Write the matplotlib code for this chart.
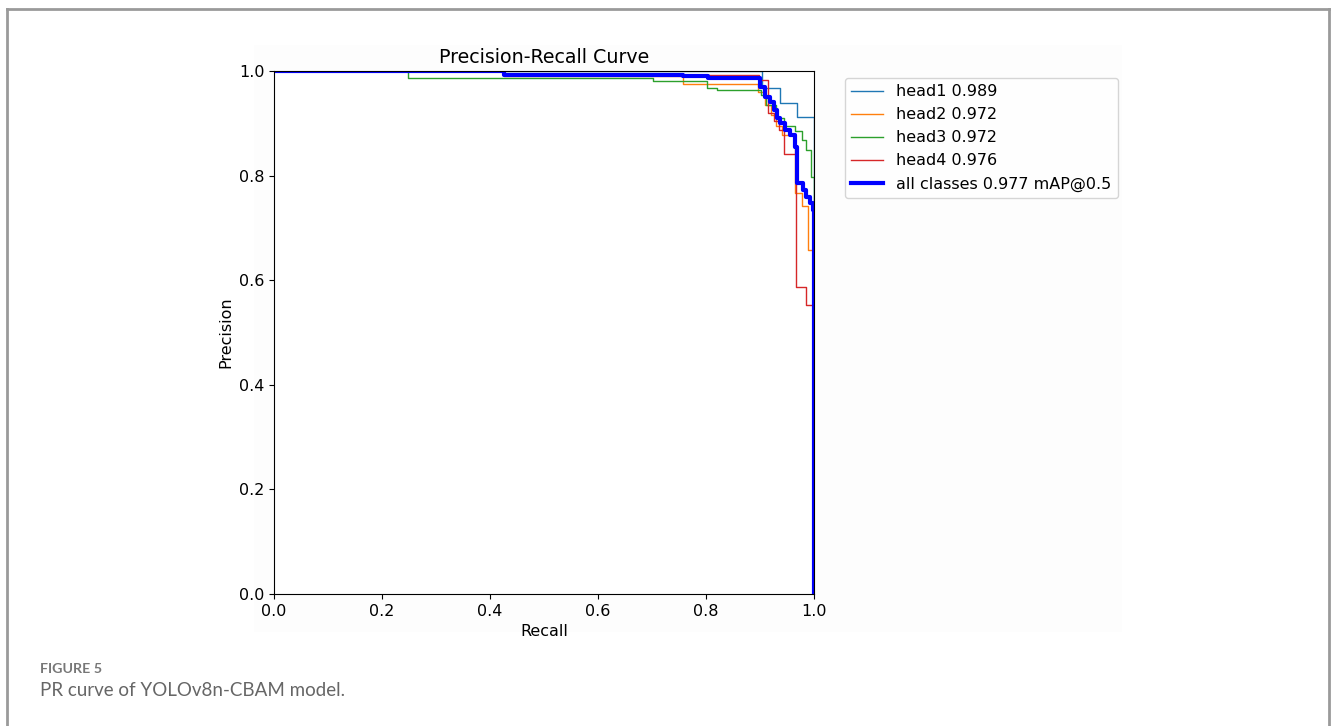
import matplotlib
matplotlib.use("Agg")
import matplotlib.pyplot as plt
from matplotlib.lines import Line2D
from matplotlib.patches import Rectangle

# step curves (recall breakpoints, precision held until the next breakpoint)
head1_r = [0.0, 0.904, 0.937, 0.968, 1.0, 1.0]
head1_p = [1.0, 0.967, 0.939, 0.913, 0.0, 0.0]

head2_r = [0.0, 0.425, 0.757, 0.897, 0.91, 0.92, 0.93, 0.94, 0.965, 0.977, 0.989, 1.0, 1.0]
head2_p = [1.0, 0.990, 0.975, 0.960, 0.935, 0.915, 0.895, 0.878, 0.767, 0.742, 0.658, 0.0, 0.0]

head3_r = [0.0, 0.2475, 0.701, 0.801, 0.82, 0.901, 0.912, 0.93, 0.945, 0.965, 0.977, 0.986, 0.995, 1.0, 1.0]
head3_p = [1.0, 0.986, 0.980, 0.967, 0.964, 0.955, 0.935, 0.910, 0.895, 0.885, 0.868, 0.849, 0.798, 0.0, 0.0]

head4_r = [0.0, 0.425, 0.899, 0.915, 0.925, 0.935, 0.945, 0.966, 0.985, 1.0, 1.0]
head4_p = [1.0, 0.993, 0.983, 0.920, 0.905, 0.887, 0.841, 0.587, 0.553, 0.0, 0.0]

all_r = [0.0, 0.425, 0.757, 0.804, 0.9, 0.909, 0.919, 0.925, 0.931, 0.937, 0.946, 0.956,
         0.965, 0.968, 0.98, 0.986, 0.993, 0.998, 1.0, 1.0]
all_p = [1.0, 0.993, 0.990, 0.986, 0.970, 0.951, 0.941, 0.925, 0.910, 0.900, 0.887, 0.878,
         0.855, 0.785, 0.772, 0.760, 0.747, 0.734, 0.0, 0.0]

class_names = ["head1", "head2", "head3", "head4"]
class_ap = [0.989, 0.972, 0.972, 0.976]
map50 = 0.977

W, H = 1332, 726
fig = plt.figure(figsize=(W / 100, H / 100), dpi=100)

# page frame and embedded image backdrop
fig.add_artist(Rectangle((254 / W, 1 - 632 / H), (1122 - 254) / W, (632 - 45) / H,
                         transform=fig.transFigure, facecolor="#fdfdfd", edgecolor="none", zorder=0))
frame = dict(color="#9a9a9a", linewidth=2, transform=fig.transFigure)
fig.add_artist(Line2D([6.5 / W, 1329 / W], [1 - 9 / H, 1 - 9 / H], **frame))
fig.add_artist(Line2D([6.5 / W, 6.5 / W], [0, 1 - 9 / H], **frame))
fig.add_artist(Line2D([1329 / W, 1329 / W], [0, 1 - 9 / H], **frame))

ax = fig.add_axes([274 / W, 1 - 594 / H, 540 / W, 523 / H])
ax.set_facecolor("white")

curves = [(head1_r, head1_p), (head2_r, head2_p), (head3_r, head3_p), (head4_r, head4_p)]
for i, ((r, p), name, ap) in enumerate(zip(curves, class_names, class_ap)):
    ax.plot(r, p, drawstyle="steps-post", linewidth=1, color=f"C{i}", label=f"{name} {ap:.3f}")
ax.plot(all_r, all_p, drawstyle="steps-post", linewidth=3, color="blue",
        label=f"all classes {map50:.3f} mAP@0.5")

ax.set_xlim(0, 1)
ax.set_ylim(0, 1)
ax.set_xlabel("Recall", fontsize=11.5)
ax.set_ylabel("Precision", fontsize=11.5)
ax.set_title("Precision-Recall Curve", fontsize=13.7)
ax.tick_params(labelsize=11.5)
ax.legend(loc="upper left", bbox_to_anchor=(845 / W, 1 - 78 / H),
          bbox_transform=fig.transFigure, borderaxespad=0, fontsize=11.5)

fig.text(40 / W, 1 - 669 / H, "FIGURE 5", fontsize=10.3, fontweight="bold",
         color="#777777", family="Lato", va="center")
fig.text(40 / W, 1 - 690 / H, "PR curve of YOLOv8n-CBAM model.", fontsize=13.5,
         color="#666666", family="Lato", va="center")

fig.savefig("out.png", dpi=100)
